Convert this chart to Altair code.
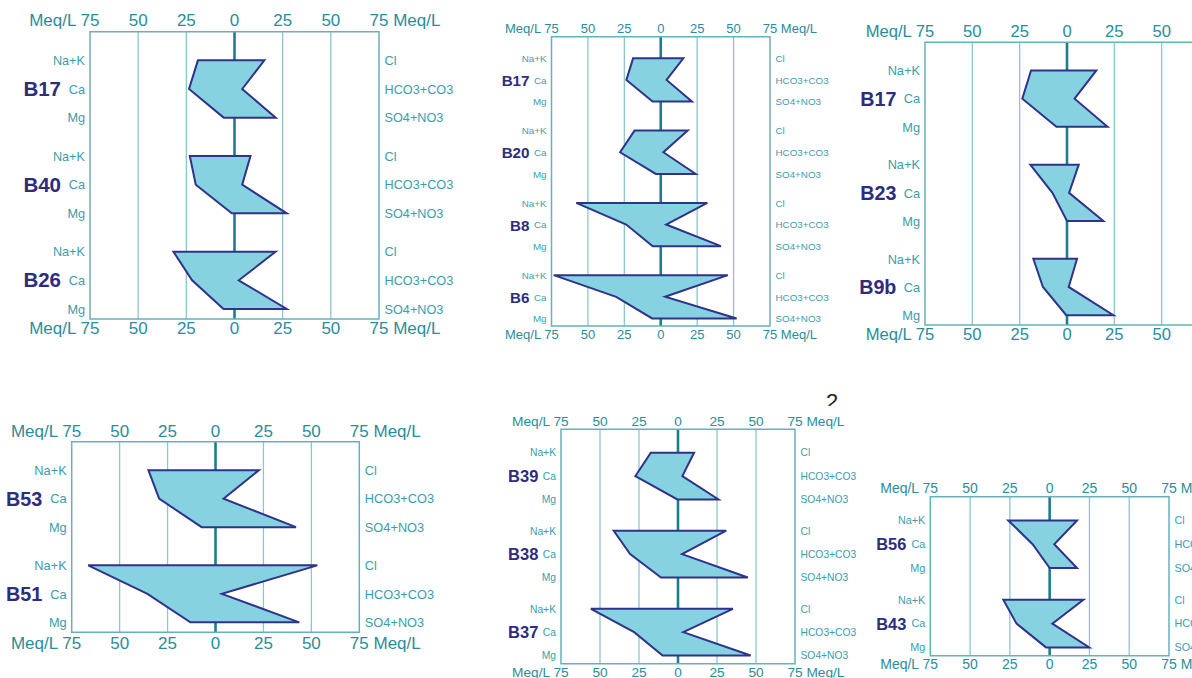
import altair as alt
import pandas as pd

# Major ions in meq/L for each sample (cations drawn left, anions right)
SAMPLES = ["B17", "B40", "B26", "B20", "B8", "B6", "B23", "B9b",
           "B53", "B51", "B39", "B38", "B37", "B56", "B43"]
NA_K = [19.0, 23.2, 31.7, 18.0, 58.0, 73.5, 19.4, 17.8, 35.0, 66.4, 17.4, 41.2, 55.8, 26.0, 29.1]
CA = [23.6, 20.1, 22.0, 27.9, 23.7, 30.6, 7.7, 12.7, 29.4, 35.5, 27.3, 30.7, 28.1, 10.7, 20.8]
MG = [5.6, 1.4, 5.7, 3.4, 5.5, 5.9, 0.0, 0.4, 7.2, 13.1, 0.4, 10.9, 9.9, 0.0, 2.3]
CL = [15.5, 8.3, 21.3, 18.5, 32.0, 46.1, 6.2, 5.3, 22.6, 53.1, 10.3, 30.9, 35.2, 17.2, 21.2]
HCO3_CO3 = [4.0, 4.0, 2.2, 1.8, 3.7, 3.0, 1.1, 0.9, 4.2, 3.3, 2.8, 2.6, 3.4, 2.9, 1.7]
SO4_NO3 = [21.4, 27.1, 27.1, 24.0, 41.3, 52.1, 19.2, 24.5, 42.0, 43.7, 26.0, 44.8, 46.6, 17.2, 24.9]

CATION_LABELS = ["Na+K", "Ca", "Mg"]
ANION_LABELS = ["Cl", "HCO3+CO3", "SO4+NO3"]
INNER_TICKS = [-50, -25, 0, 25, 50]
GRID = [-50, -25, 25, 50]

# Samples shown in each Stiff diagram
PANEL_SAMPLES = [
    ["B17", "B40", "B26"],
    ["B17", "B20", "B8", "B6"],
    ["B17", "B23", "B9b"],
    ["B53", "B51"],
    ["B39", "B38", "B37"],
    ["B56", "B43"],
]

# Frame box of each diagram on the page: left, right, top, bottom (px)
PANEL_BOX = [
    (90, 379, 31.7, 319),
    (551.5, 770, 36.7, 326),
    (925, 1209, 42.3, 325),
    (71.7, 359.3, 441.7, 632.3),
    (561, 795, 429.3, 663.7),
    (930.3, 1169, 496.7, 655.7),
]
# name font, ion font, tick font, name gap, top tick gap, bottom tick gap
PANEL_TEXT = [
    (20.5, 12.7, 17.0, 29.0, 5.5, 2.4),
    (15.2, 9.8, 13.0, 22.0, 3.4, 3.1),
    (19.7, 12.8, 16.6, 28.6, 5.0, 2.2),
    (19.8, 12.8, 17.0, 29.4, 5.0, 3.2),
    (16.5, 10.3, 13.7, 22.6, 3.0, 2.0),
    (16.4, 10.8, 14.0, 24.0, 3.4, 2.6),
]

STRIDE = 3.34      # row units between successive samples
BOTTOM_PAD = 0.35  # row units below the last Mg row

FILL = "#86d2e1"
OUTLINE = "#2f338a"
ZERO = "#1c7e8b"
GRID_COLOR = "#8ec6cd"
FRAME = "#66b1bb"
TICK_TEXT = "#2a8d9b"
ION_TEXT = "#3c9dab"
NAME_TEXT = "#2e2c7e"
FONT = "Liberation Sans"

CATIONS = [NA_K, CA, MG]
ANIONS = [CL, HCO3_CO3, SO4_NO3]


def stiff_panel(idx):
    names = PANEL_SAMPLES[idx]
    left, right, top, bottom = PANEL_BOX[idx]
    name_fs, ion_fs, tick_fs, name_gap, top_gap, bot_gap = PANEL_TEXT[idx]
    y_max = (len(names) - 1) * STRIDE + 2 + BOTTOM_PAD

    xs = alt.Scale(domain=[-75, 75], range=[left, right], nice=False, zero=False)
    ys = alt.Scale(domain=[-1, y_max], range=[top, bottom], nice=False, zero=False)

    def X(f):
        return alt.X(f, type="quantitative", scale=xs, axis=None)

    def Y(f):
        return alt.Y(f, type="quantitative", scale=ys, axis=None)

    rows = []
    for k, s in enumerate(names):
        i = SAMPLES.index(s)
        for j in range(3):
            rows.append(dict(sample=s, y=k * STRIDE + j, left=-CATIONS[j][i],
                             right=ANIONS[j][i], cation=CATION_LABELS[j],
                             anion=ANION_LABELS[j], xl=-75, xr=75))
    rows = pd.DataFrame(rows)
    sample_df = pd.DataFrame(dict(sample=names, y=[k * STRIDE + 1 for k in range(len(names))], x=-75))
    frame_df = pd.DataFrame(dict(x0=[-75], x1=[75], y0=[-1], y1=[y_max]))
    grid_df = pd.DataFrame(dict(x=GRID, y0=-1, y1=y_max))
    zero_df = pd.DataFrame(dict(x=[0], y0=[-1], y1=[y_max]))
    tick_df = pd.DataFrame(dict(x=INNER_TICKS, label=[str(abs(t)) for t in INNER_TICKS],
                                y0=-1, y1=y_max))
    end_df = pd.DataFrame(dict(xl=[-75], xr=[75], y0=[-1], y1=[y_max],
                               left_label=["Meq/L 75"], right_label=["75 Meq/L"]))
    half75 = 0.556 * tick_fs  # half the width of "75"

    layers = []

    if idx == 4:
        # page number peeking out above this diagram, partly covered by it
        page_df = pd.DataFrame(dict(x=[98.8], y=[-1.87], t=["2"]))
        layers.append(alt.Chart(page_df).mark_text(fontSize=22, font=FONT, color="#1e1e1e",
                                                   align="center", baseline="alphabetic")
                      .encode(x=X("x"), y=Y("y"), text="t:N"))
        cover_df = pd.DataFrame(dict(x0=[-120], x1=[120], y0=[-2.0], y1=[y_max + 1]))
        layers.append(alt.Chart(cover_df).mark_rect(fill="white")
                      .encode(x=X("x0"), x2="x1", y=Y("y0"), y2="y1"))

    layers += [
        alt.Chart(grid_df).mark_rule(color=GRID_COLOR, strokeWidth=1.3)
        .encode(x=X("x"), y=Y("y0"), y2="y1"),
        alt.Chart(zero_df).mark_rule(color=ZERO, strokeWidth=2.6)
        .encode(x=X("x"), y=Y("y0"), y2="y1"),
        alt.Chart(frame_df).mark_rect(fill="transparent", stroke=FRAME, strokeWidth=1.5)
        .encode(x=X("x0"), x2="x1", y=Y("y0"), y2="y1"),
        alt.Chart(rows).mark_area(orient="horizontal", fill=FILL, stroke=OUTLINE,
                                  strokeWidth=2, fillOpacity=1)
        .encode(y=Y("y"), x=X("left"), x2="right", detail="sample:N"),
        # scale labels above and below the frame
        alt.Chart(tick_df).mark_text(fontSize=tick_fs, font=FONT, color=TICK_TEXT,
                                     align="center", baseline="alphabetic", dy=-top_gap)
        .encode(x=X("x"), y=Y("y0"), text="label:N"),
        alt.Chart(tick_df).mark_text(fontSize=tick_fs, font=FONT, color=TICK_TEXT,
                                     align="center", baseline="top", dy=bot_gap)
        .encode(x=X("x"), y=Y("y1"), text="label:N"),
        alt.Chart(end_df).mark_text(fontSize=tick_fs, font=FONT, color=TICK_TEXT,
                                    align="right", baseline="alphabetic", dy=-top_gap, dx=half75)
        .encode(x=X("xl"), y=Y("y0"), text="left_label:N"),
        alt.Chart(end_df).mark_text(fontSize=tick_fs, font=FONT, color=TICK_TEXT,
                                    align="left", baseline="alphabetic", dy=-top_gap, dx=-half75)
        .encode(x=X("xr"), y=Y("y0"), text="right_label:N"),
        alt.Chart(end_df).mark_text(fontSize=tick_fs, font=FONT, color=TICK_TEXT,
                                    align="right", baseline="top", dy=bot_gap, dx=half75)
        .encode(x=X("xl"), y=Y("y1"), text="left_label:N"),
        alt.Chart(end_df).mark_text(fontSize=tick_fs, font=FONT, color=TICK_TEXT,
                                    align="left", baseline="top", dy=bot_gap, dx=-half75)
        .encode(x=X("xr"), y=Y("y1"), text="right_label:N"),
        # ion names
        alt.Chart(rows).mark_text(fontSize=ion_fs, font=FONT, color=ION_TEXT,
                                  align="right", baseline="middle", dx=-5, dy=0.8)
        .encode(x=X("xl"), y=Y("y"), text="cation:N"),
        alt.Chart(rows).mark_text(fontSize=ion_fs, font=FONT, color=ION_TEXT,
                                  align="left", baseline="middle", dx=5.5, dy=0.8)
        .encode(x=X("xr"), y=Y("y"), text="anion:N"),
        # sample names
        alt.Chart(sample_df).mark_text(fontSize=name_fs, font=FONT, fontWeight="bold",
                                       color=NAME_TEXT, align="right", baseline="middle",
                                       dx=-name_gap, dy=1)
        .encode(x=X("x"), y=Y("y"), text="sample:N"),
    ]
    return alt.layer(*layers)


chart = (
    alt.layer(*[stiff_panel(i) for i in range(len(PANEL_SAMPLES))])
    .resolve_scale(x="independent", y="independent")
    .properties(width=1192, height=678, padding=0,
                autosize=alt.AutoSizeParams(type="none"), background="white")
    .configure_view(strokeWidth=0)
)

chart.save("out.html", embed_options={"renderer": "svg", "actions": False})
